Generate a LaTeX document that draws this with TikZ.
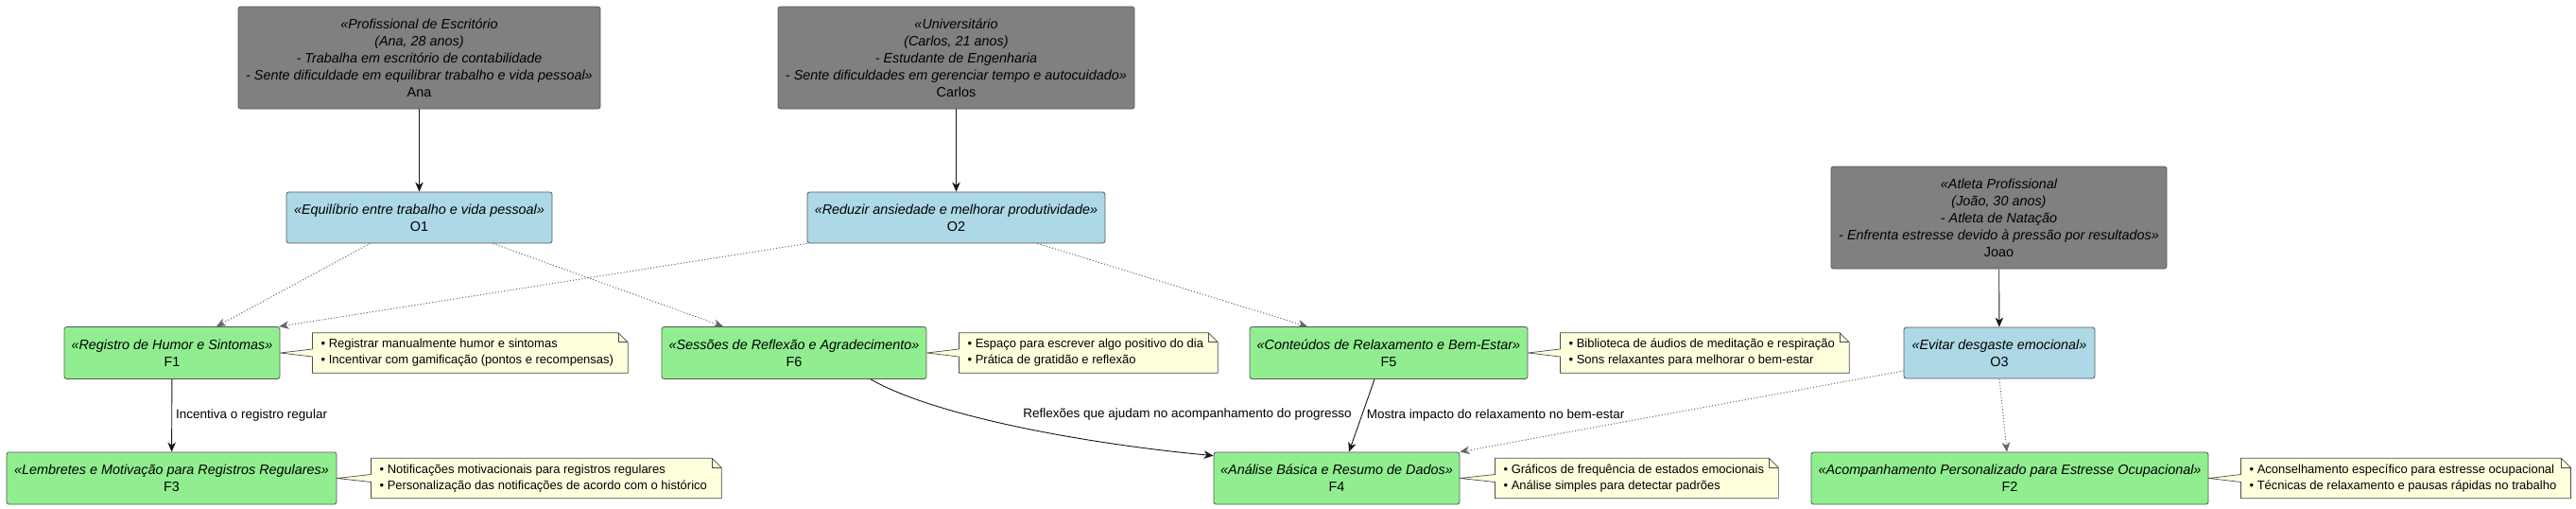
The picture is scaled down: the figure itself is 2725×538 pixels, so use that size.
\documentclass[tikz,border=0pt]{standalone}
\usepackage{fontspec}
\setmainfont{Liberation Sans}
\usetikzlibrary{arrows.meta,positioning,backgrounds}
\definecolor{personagray}{HTML}{808080}
\definecolor{goalblue}{HTML}{ADD8E6}
\definecolor{featgreen}{HTML}{90EE90}
\definecolor{notefill}{HTML}{FEFFDD}
\definecolor{edgegray}{HTML}{181818}
\tikzset{
    basebox/.style={
        draw=black!65,
        rounded corners=2.5pt,
        align=center,
        line width=0.8pt,
        inner sep=0pt,
        font=\fontsize{14.4}{18}\selectfont
    },
    personabox/.style={basebox, fill=personagray, minimum height=108pt},
    goalbox/.style={basebox, fill=goalblue, minimum height=54pt},
    featurebox/.style={basebox, fill=featgreen, minimum height=55pt},
    notebox/.style={
        align=left,
        inner xsep=9pt,
        inner ysep=0pt,
        minimum height=42pt,
        font=\fontsize{13}{17}\selectfont
    },
    notepath/.style={fill=notefill, draw=black!70, line width=0.7pt},
    solidlink/.style={
        -{Stealth[length=10pt,width=8.5pt,inset=3pt]},
        line width=0.9pt,
        draw=edgegray
    },
    dottedlink/.style={
        solidlink,
        draw=black!60,
        dash pattern=on 1.2pt off 2pt
    },
    linklabel/.style={font=\fontsize{13.5}{16}\selectfont, inner sep=0pt}
}

\begin{document}
\begin{tikzpicture}[x=1pt, y=-1pt]
    \useasboundingbox (0,0) rectangle (2725,538);

    % personas
    \node[personabox, minimum width=383pt] (ana) at (443.5,61) {
        \itshape «Profissional de Escritório\\
        \itshape (Ana, 28 anos)\\
        \itshape - Trabalha em escritório de contabilidade\\
        \itshape - Sente dificuldade em equilibrar trabalho e vida pessoal»\\
        Ana
    };
    \node[personabox, minimum width=377pt] (carlos) at (1011.5,61) {
        \itshape «Universitário\\
        \itshape (Carlos, 21 anos)\\
        \itshape - Estudante de Engenharia\\
        \itshape - Sente dificuldades em gerenciar tempo e autocuidado»\\
        Carlos
    };
    \node[personabox, minimum width=355pt] (joao) at (2114.5,230) {
        \itshape «Atleta Profissional\\
        \itshape (João, 30 anos)\\
        \itshape - Atleta de Natação\\
        \itshape - Enfrenta estresse devido à pressão por resultados»\\
        Joao
    };

    % objetivos
    \node[goalbox, minimum width=281pt] (o1) at (443.5,230) {\itshape «Equilíbrio entre trabalho e vida pessoal»\\O1};
    \node[goalbox, minimum width=315pt] (o2) at (1011.5,230) {\itshape «Reduzir ansiedade e melhorar produtividade»\\O2};
    \node[goalbox, minimum width=202pt] (o3) at (2115,373) {\itshape «Evitar desgaste emocional»\\O3};

    % funcionalidades
    \node[featurebox, minimum width=228pt] (f1) at (182,373) {\itshape «Registro de Humor e Sintomas»\\F1};
    \node[featurebox, minimum width=280pt] (f6) at (840,373) {\itshape «Sessões de Reflexão e Agradecimento»\\F6};
    \node[featurebox, minimum width=294pt] (f5) at (1469,373) {\itshape «Conteúdos de Relaxamento e Bem-Estar»\\F5};
    \node[featurebox, minimum width=349pt] (f3) at (181.5,505.5) {\itshape «Lembretes e Motivação para Registros Regulares»\\F3};
    \node[featurebox, minimum width=260pt] (f4) at (1414,505.5) {\itshape «Análise Básica e Resumo de Dados»\\F4};
    \node[featurebox, minimum width=420pt] (f2) at (2126,505.5) {\itshape «Acompanhamento Personalizado para Estresse Ocupacional»\\F2};

    % notas
    \node[notebox, right=34pt of f1] (n1) {• Registrar manualmente humor e sintomas\\• Incentivar com gamificação (pontos e recompensas)};
    \node[notebox, right=34pt of f6] (n6) {• Espaço para escrever algo positivo do dia\\• Prática de gratidão e reflexão};
    \node[notebox, right=34pt of f5] (n5) {• Biblioteca de áudios de meditação e respiração\\• Sons relaxantes para melhorar o bem-estar};
    \node[notebox, right=36pt of f3] (n3) {• Notificações motivacionais para registros regulares\\• Personalização das notificações de acordo com o histórico};
    \node[notebox, right=37pt of f4] (n4) {• Gráficos de frequência de estados emocionais\\• Análise simples para detectar padrões};
    \node[notebox, right=34pt of f2] (n2) {• Aconselhamento específico para estresse ocupacional\\• Técnicas de relaxamento e pausas rápidas no trabalho};

    \begin{scope}[on background layer]
        \fill[white] (0,0) rectangle (2725,538);
        \foreach \nt/\bx in {n1/f1, n6/f6, n5/f5, n3/f3, n4/f4, n2/f2} {
            \draw[notepath] (\nt.north west) -- ([xshift=-4pt]\nt.north east)
                -- ([xshift=6pt,yshift=-10pt]\nt.north east) -- ([xshift=6pt]\nt.south east) -- (\nt.south west)
                -- ([yshift=-4pt]\nt.west) -- (\bx.east) -- ([yshift=4pt]\nt.west) -- cycle;
            \draw[notepath, fill=none] ([xshift=-4pt]\nt.north east)
                -- ([xshift=-4pt,yshift=-10pt]\nt.north east) -- ([xshift=6pt,yshift=-10pt]\nt.north east);
        }
    \end{scope}

    % ligacoes
    \draw[solidlink] (ana) -- (o1);
    \draw[solidlink] (carlos) -- (o2);
    \draw[solidlink] (joao) -- (o3);

    \draw[dottedlink] ([xshift=-52pt]o1.south) -- ([xshift=47pt]f1.north);
    \draw[dottedlink] ([xshift=78pt]o1.south) -- ([xshift=-75pt]f6.north);
    \draw[dottedlink] (o2.south west) -- ([xshift=-1pt]f1.north east);
    \draw[dottedlink] ([xshift=86pt]o2.south) -- ([xshift=-86pt]f5.north);
    \draw[dottedlink] ([yshift=-19pt]o3.west) -- (f4.north east);
    \draw[dottedlink] (o3.south) -- ([xshift=-3pt]f2.north);

    \draw[solidlink] (f1) -- node[linklabel, right=4pt] {Incentiva o registro regular} (f3);
    \draw[solidlink] ([xshift=81pt]f6.south) .. controls +(70,40) and +(-130,-12) .. ([yshift=-4pt]f4.north west);
    \node[linklabel, anchor=east] (lblrefl) at (1430,438) {Reflexões que ajudam no acompanhamento do progresso};
    \draw[solidlink] ([xshift=-15pt]f5.south) -- node[linklabel, right=5pt] {Mostra impacto do relaxamento no bem-estar} ([xshift=13pt]f4.north);
\end{tikzpicture}
\end{document}
